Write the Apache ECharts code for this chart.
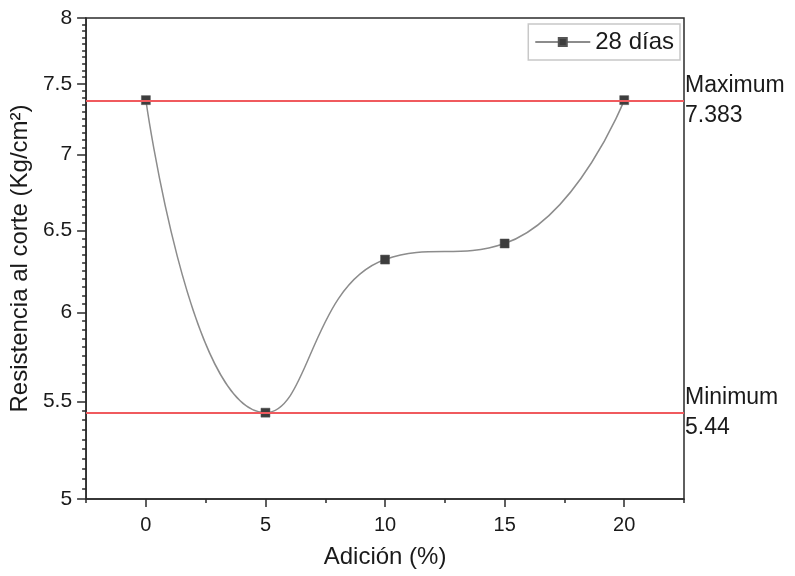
<!DOCTYPE html>
<html>
<head>
<meta charset="utf-8">
<script src="https://cdn.jsdelivr.net/npm/echarts@6/dist/echarts.min.js"></script>
<style>html,body{margin:0;padding:0;background:#fff}#c{width:795px;height:576px}</style>
</head>
<body>
<div id="c"></div>
<script>
const categories = [0, 5, 10, 15, 20];
const values28 = [7.383, 5.44, 6.318, 6.418, 7.383];
const seriesName = '28 días';
const xTickLabels = [0, 5, 10, 15, 20];
const xMinorTicks = [-2.5, 2.5, 7.5, 12.5, 17.5, 22.5];
const yTickLabels = [5, 5.5, 6, 6.5, 7, 7.5, 8];
const yMinorTicks = [];
for (let i = 1; i < 60; i++) { const v = Math.round((5 + i * 0.05) * 100) / 100; if (Math.round(v * 100) % 50 !== 0) yMinorTicks.push(v); }
const maxVal = Math.max(...values28), minVal = Math.min(...values28);

const FONT = 'Liberation Sans';
const chart = echarts.init(document.getElementById('c'));
const axisLine = { show: true, onZero: false, lineStyle: { color: '#2b2b2b', width: 1.5 } };
chart.setOption({
  animation: false,
  textStyle: { fontFamily: FONT },
  grid: { left: 86, right: 111, top: 18, bottom: 77, show: true, borderColor: '#2b2b2b', borderWidth: 1.5, backgroundColor: 'transparent' },
  legend: {
    data: [seriesName], right: 115, top: 24, orient: 'vertical',
    itemWidth: 55, itemHeight: 10, itemGap: 0,
    borderColor: '#c8c8c8', borderWidth: 1.5, padding: [6, 6, 6, 6],
    textStyle: { fontSize: 24, color: '#1a1a1a', fontFamily: FONT }
  },
  xAxis: [{
    type: 'value', min: -2.5, max: 22.5,
    name: 'Adición (%)', nameLocation: 'middle', nameGap: 46,
    nameTextStyle: { fontSize: 24, color: '#1a1a1a', fontFamily: FONT },
    axisLine: axisLine, splitLine: { show: false },
    axisTick: { show: true, length: 8, customValues: xTickLabels, lineStyle: { color: '#2b2b2b', width: 1.5 } },
    axisLabel: { customValues: xTickLabels, fontSize: 20, color: '#1a1a1a', margin: 16, fontFamily: FONT }
  }, {
    type: 'value', min: -2.5, max: 22.5, position: 'bottom', gridIndex: 0,
    axisLine: { show: false, onZero: false }, splitLine: { show: false },
    axisTick: { show: true, length: 4, customValues: xMinorTicks, lineStyle: { color: '#2b2b2b', width: 1.5 } },
    axisLabel: { show: false }
  }],
  yAxis: [{
    type: 'log', logBase: 10, min: 5, max: 8,
    name: 'Resistencia al corte (Kg/cm²)', nameLocation: 'middle', nameGap: 48,
    nameTextStyle: { fontSize: 24, color: '#1a1a1a', fontFamily: FONT },
    axisLine: axisLine, splitLine: { show: false },
    axisTick: { show: true, length: 9, customValues: yTickLabels, lineStyle: { color: '#2b2b2b', width: 1.5 } },
    axisLabel: { customValues: yTickLabels, fontSize: 21, color: '#1a1a1a', margin: 14, fontFamily: FONT }
  }, {
    type: 'log', logBase: 10, min: 5, max: 8, position: 'left', offset: 0,
    axisLine: { show: false, onZero: false }, splitLine: { show: false },
    axisTick: { show: true, length: 4, customValues: yMinorTicks, lineStyle: { color: '#2b2b2b', width: 1.5 } },
    axisLabel: { show: false }
  }],
  series: [{
    name: seriesName, type: 'line', xAxisIndex: 0, yAxisIndex: 0,
    data: categories.map((c, i) => [c, values28[i]]),
    smooth: 0.5,
    symbol: 'rect', symbolSize: 9,
    itemStyle: { color: '#3d3d3d', borderColor: '#555', borderWidth: 0.5 },
    lineStyle: { color: '#8c8c8c', width: 1.5 },
    markLine: {
      silent: true, symbol: ['none', 'none'],
      lineStyle: { color: '#f05a5e', width: 2, type: 'solid' },
      label: { position: 'end', distance: 1, formatter: (p) => p.name, fontSize: 23, lineHeight: 30, color: '#1a1a1a', fontFamily: FONT, align: 'left' },
      data: [
        { name: 'Maximum\n' + maxVal, yAxis: maxVal },
        { name: 'Minimum\n' + minVal, yAxis: minVal }
      ]
    }
  }]
});
</script>
</body>
</html>
